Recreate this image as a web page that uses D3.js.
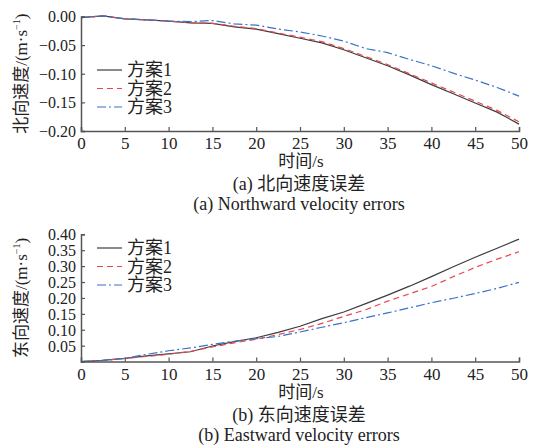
<!DOCTYPE html>
<html>
<head>
<meta charset="utf-8">
<script src="https://cdn.jsdelivr.net/npm/d3@7"></script>
<style>
  html, body { margin: 0; padding: 0; background: #fff; }
  svg { display: block; }
  text { font-family: "Liberation Serif", "Noto Sans CJK SC", serif; fill: #222; }
</style>
</head>
<body>
<svg id="chart" width="541" height="448"></svg>
<script>
// Time samples (s)
const times = [0, 2.5, 5, 7.5, 10, 12.5, 15, 17.5, 20, 22.5, 25, 27.5, 30, 32.5, 35, 37.5, 40, 42.5, 45, 47.5, 50];

// Northward velocity errors (m/s)
const north1 = [-0.002, 0.001, -0.004, -0.006, -0.008, -0.011, -0.012, -0.018, -0.022, -0.030, -0.038, -0.046, -0.058, -0.072, -0.086, -0.102, -0.119, -0.135, -0.151, -0.167, -0.188];
const north2 = [-0.002, 0.001, -0.004, -0.006, -0.008, -0.011, -0.012, -0.017, -0.021, -0.029, -0.036, -0.044, -0.056, -0.070, -0.084, -0.100, -0.116, -0.132, -0.148, -0.164, -0.184];
const north3 = [-0.002, 0.001, -0.004, -0.006, -0.008, -0.009, -0.007, -0.013, -0.015, -0.022, -0.027, -0.034, -0.043, -0.056, -0.063, -0.075, -0.086, -0.099, -0.111, -0.124, -0.139];

// Eastward velocity errors (m/s)
const east1 = [0, 0.004, 0.010, 0.018, 0.024, 0.031, 0.049, 0.063, 0.075, 0.092, 0.111, 0.135, 0.156, 0.182, 0.209, 0.237, 0.267, 0.298, 0.328, 0.356, 0.385];
const east2 = [0, 0.004, 0.010, 0.016, 0.023, 0.032, 0.046, 0.059, 0.070, 0.085, 0.101, 0.120, 0.142, 0.163, 0.190, 0.213, 0.236, 0.267, 0.296, 0.322, 0.345];
const east3 = [0, 0.004, 0.010, 0.023, 0.034, 0.043, 0.054, 0.064, 0.072, 0.079, 0.093, 0.108, 0.122, 0.138, 0.153, 0.169, 0.185, 0.199, 0.214, 0.230, 0.249];

const seriesNames = ["方案1", "方案2", "方案3"];
const xTicks = [0, 5, 10, 15, 20, 25, 30, 35, 40, 45, 50];
const northTicks = [0, -0.05, -0.10, -0.15, -0.20];
const eastTicks = [0.05, 0.10, 0.15, 0.20, 0.25, 0.30, 0.35, 0.40];

const styles = [
  { color: "#3c3c3c", dash: null },
  { color: "#e8474f", dash: "6,4" },
  { color: "#3a73c6", dash: "9,3,2,3" }
];

const svg = d3.select("#chart");

function panel(opts) {
  const g = svg.append("g");
  const x = d3.scaleLinear().domain([0, 50]).range([81, 519]);
  const y = d3.scaleLinear().domain(opts.domain).range([opts.bottom, opts.top]);

  // series
  const line = d3.line().x((d, i) => x(times[i])).y(d => y(d));
  opts.series.forEach((vals, k) => {
    g.append("path")
      .attr("d", line(vals))
      .attr("fill", "none")
      .attr("stroke", styles[k].color)
      .attr("stroke-width", 1.2)
      .attr("stroke-dasharray", styles[k].dash);
  });

  // axes
  const xAxis = d3.axisBottom(x).tickValues(xTicks).tickSize(-4).tickPadding(6).tickFormat(d3.format("d"));
  const gx = g.append("g").attr("transform", `translate(0,${opts.bottom})`).call(xAxis);
  const yAxis = d3.axisLeft(y).tickValues(opts.ticks).tickSize(-4).tickPadding(5).tickFormat(d => d3.format(".2f")(d).replace("-", "−"));
  const gy = g.append("g").attr("transform", "translate(81,0)").call(yAxis);
  [gx, gy].forEach(a => {
    a.select(".domain").attr("stroke", "#555").attr("stroke-width", 1.5);
    a.selectAll(".tick line").attr("stroke", "#555").attr("stroke-width", 1.2);
    a.selectAll(".tick text").attr("font-size", 16).attr("fill", "#222");
  });
  gx.selectAll(".tick text").attr("dy", "0.71em").attr("font-size", 17);
  gy.selectAll(".tick text").attr("dy", "0.34em");

  // y title
  const yt = g.append("text")
    .attr("transform", `translate(27,${(opts.top + opts.bottom) / 2}) rotate(-90)`)
    .attr("text-anchor", "middle")
    .attr("font-size", 17);
  yt.append("tspan").text(opts.yTitle + "/(m·s");
  yt.append("tspan").attr("font-size", 10).attr("dy", -7).text("−1");
  yt.append("tspan").attr("dy", 7).text(")");

  // x title and captions
  g.append("text").attr("x", 301).attr("y", opts.bottom + 36).attr("text-anchor", "middle")
    .attr("font-size", 17).text("时间/s");
  g.append("text").attr("x", 299).attr("y", opts.bottom + 59).attr("text-anchor", "middle")
    .attr("font-size", 18).text(opts.capCn);
  g.append("text").attr("x", 299).attr("y", opts.bottom + 79).attr("text-anchor", "middle")
    .attr("font-size", 18).text(opts.capEn);

  // legend
  seriesNames.forEach((name, k) => {
    const ly = opts.legendY + k * 18.5;
    g.append("line").attr("x1", 97).attr("x2", 122).attr("y1", ly).attr("y2", ly)
      .attr("stroke", styles[k].color).attr("stroke-width", 1.2)
      .attr("stroke-dasharray", styles[k].dash);
    g.append("text").attr("x", 127).attr("y", ly).attr("dy", "0.36em")
      .attr("font-size", 18).text(name);
  });
}

panel({
  domain: [-0.20, 0], top: 16.5, bottom: 131,
  ticks: northTicks, series: [north1, north2, north3],
  yTitle: "北向速度", capCn: "(a) 北向速度误差", capEn: "(a) Northward velocity errors",
  legendY: 70
});

panel({
  domain: [0, 0.40], top: 234.3, bottom: 361.6,
  ticks: eastTicks, series: [east1, east2, east3],
  yTitle: "东向速度", capCn: "(b) 东向速度误差", capEn: "(b) Eastward velocity errors",
  legendY: 248
});
</script>
</body>
</html>
